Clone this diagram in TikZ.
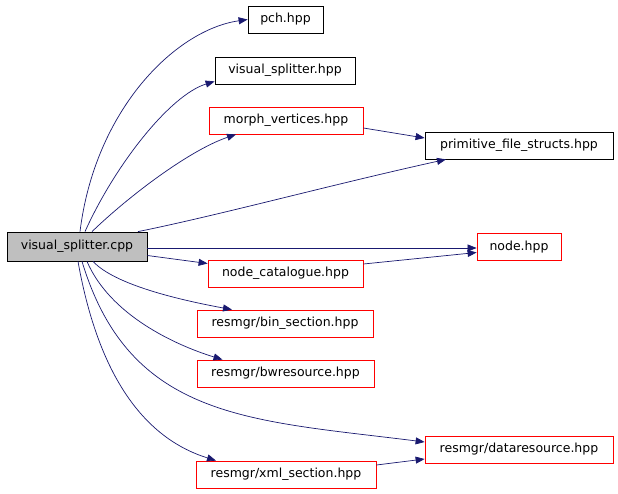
\documentclass[tikz,border=0pt]{standalone}
\usepackage{fontspec}
\setmainfont{DejaVu Sans}
\usetikzlibrary{arrows.meta}
\definecolor{edgeblue}{HTML}{191970}
\definecolor{boxred}{HTML}{FF0000}
\definecolor{boxgray}{HTML}{BFBFBF}
\tikzset{
  box/.style={draw=black, line width=0.8pt, fill=white, inner sep=0pt, font=\fontsize{12.5}{14}\selectfont},
  redbox/.style={box, draw=boxred},
  dep/.style={draw=edgeblue, line width=0.7pt, -{Triangle[length=9pt,width=7pt]}},
}
\begin{document}
\begin{tikzpicture}[x=1pt,y=-1pt]
\useasboundingbox (0,0) rectangle (618,493);
\fill[white] (0,0) rectangle (618,493);
\node[box, fill=boxgray, minimum width=140pt, minimum height=29pt] (cpp) at (77,246.5) {visual\_splitter.cpp};
\node[box, minimum width=75pt, minimum height=27pt] (pch) at (285.5,19.5) {pch.hpp};
\node[box, minimum width=140pt, minimum height=27pt] (vsh) at (285,70.5) {visual\_splitter.hpp};
\node[redbox, minimum width=154pt, minimum height=27pt] (morph) at (286,120.5) {morph\_vertices.hpp};
\node[box, minimum width=188pt, minimum height=27pt] (prim) at (519,145.5) {primitive\_file\_structs.hpp};
\node[redbox, minimum width=84pt, minimum height=27pt] (nodeh) at (519,247) {node.hpp};
\node[redbox, minimum width=155pt, minimum height=27pt] (cat) at (285.5,273.5) {node\_catalogue.hpp};
\node[redbox, minimum width=176pt, minimum height=27pt] (bin) at (285,323.5) {resmgr/bin\_section.hpp};
\node[redbox, minimum width=177pt, minimum height=27pt] (bwr) at (285.5,373.5) {resmgr/bwresource.hpp};
\node[redbox, minimum width=188pt, minimum height=27pt] (dat) at (519,449.5) {resmgr/dataresource.hpp};
\node[redbox, minimum width=180pt, minimum height=27pt] (xml) at (286,474.5) {resmgr/xml\_section.hpp};

\draw[dep] ([xshift=3pt]cpp.north) .. controls (95,110) and (175,30) .. (pch.west);
\draw[dep] ([xshift=8pt]cpp.north) .. controls (115,165) and (170,95) .. ([yshift=3pt]vsh.south west);
\draw[dep] ([xshift=15pt]cpp.north) .. controls (130,195) and (190,150) .. ([xshift=-50pt]morph.south);
\draw[dep] ([xshift=61pt]cpp.north) .. controls (220,215) and (330,185) .. ([xshift=-73pt]prim.south);
\draw[dep] ([yshift=-7.5pt]morph.east) -- ([yshift=7.5pt]prim.west);
\draw[dep] ([yshift=-1.5pt]cpp.east) -- ([yshift=-1pt]nodeh.west);
\draw[dep] ([yshift=-9pt]cpp.east) -- ([yshift=10pt]cat.west);
\draw[dep] ([yshift=9.5pt]cat.east) -- ([yshift=-5.5pt]nodeh.west);
\draw[dep] ([xshift=16pt]cpp.south) .. controls (115,285) and (180,300) .. ([xshift=-53pt]bin.north);
\draw[dep] ([xshift=10pt]cpp.south) .. controls (110,315) and (175,345) .. ([xshift=-63pt]bwr.north);
\draw[dep] ([xshift=5pt]cpp.south) .. controls (130,420) and (250,420) .. ([yshift=7.5pt]dat.west);
\draw[dep] ([xshift=1pt]cpp.south) .. controls (100,385) and (150,440) .. ([xshift=-70pt]xml.north);
\draw[dep] ([yshift=9.5pt]xml.east) -- ([yshift=-9.5pt]dat.west);
\end{tikzpicture}
\end{document}
